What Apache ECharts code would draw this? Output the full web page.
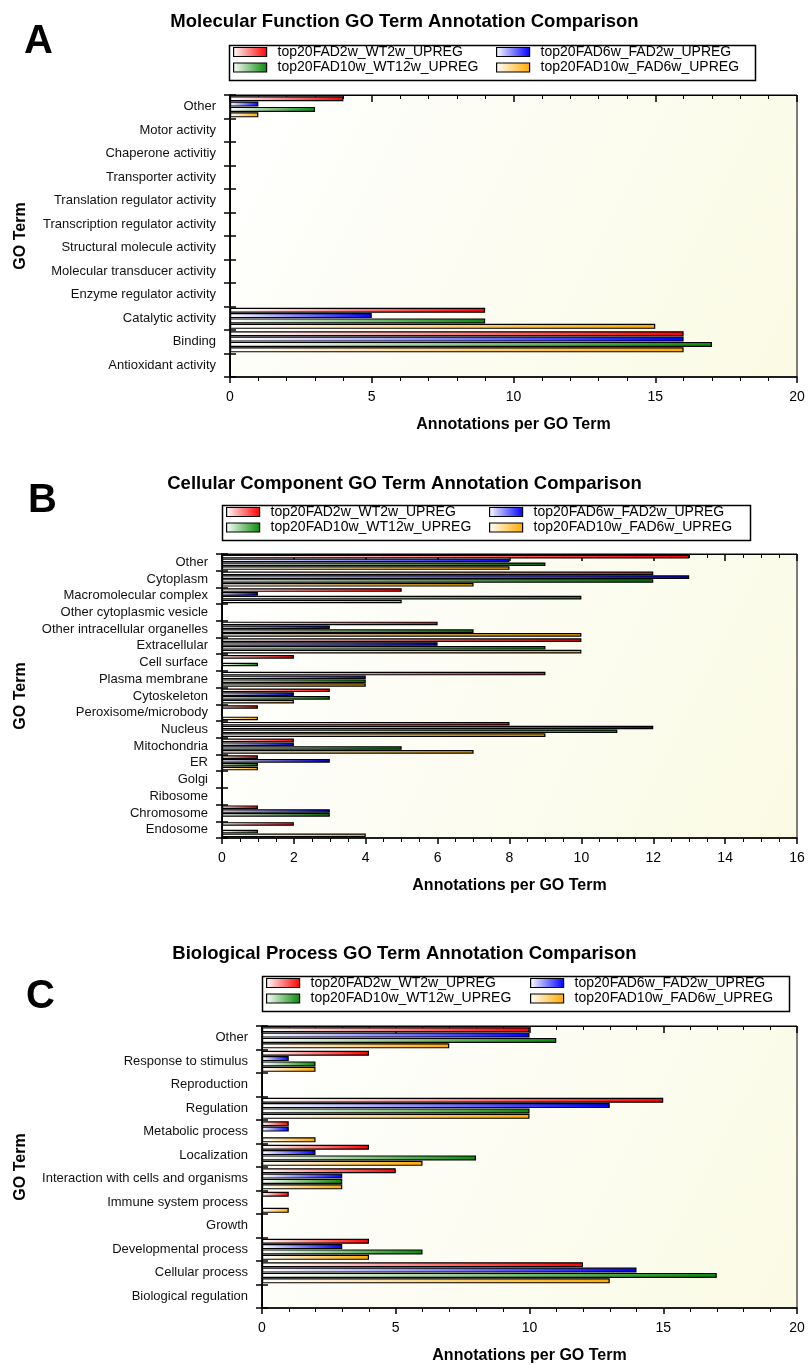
<!DOCTYPE html>
<html><head><meta charset="utf-8">
<script src="https://cdn.jsdelivr.net/npm/echarts@6/dist/echarts.min.js"></script>
<style>html,body{margin:0;padding:0;background:#fff}#c{width:809px;height:1365px}</style>
</head><body><div id="c"></div>
<script>
const seriesNames = ['top20FAD2w_WT2w_UPREG','top20FAD6w_FAD2w_UPREG','top20FAD10w_WT12w_UPREG','top20FAD10w_FAD6w_UPREG'];

const mfCategories = ['Other','Motor activity','Chaperone activitiy','Transporter activity','Translation regulator activity','Transcription regulator activity','Structural molecule activity','Molecular transducer activity','Enzyme regulator activity','Catalytic activity','Binding','Antioxidant activity'];
const mfFAD2wWT2w   = [4,0,0,0,0,0,0,0,0,9,16,0];
const mfFAD6wFAD2w  = [1,0,0,0,0,0,0,0,0,5,16,0];
const mfFAD10wWT12w = [3,0,0,0,0,0,0,0,0,9,17,0];
const mfFAD10wFAD6w = [1,0,0,0,0,0,0,0,0,15,16,0];

const ccCategories = ['Other','Cytoplasm','Macromolecular complex','Other cytoplasmic vesicle','Other intracellular organelles','Extracellular','Cell surface','Plasma membrane','Cytoskeleton','Peroxisome/microbody','Nucleus','Mitochondria','ER','Golgi','Ribosome','Chromosome','Endosome'];
const ccFAD2wWT2w   = [13,12,5,0,6,10,2,9,3,1,8,2,1,0,0,1,2];
const ccFAD6wFAD2w  = [8,13,1,0,3,6,0,4,2,0,12,2,3,0,0,3,0];
const ccFAD10wWT12w = [9,12,10,0,7,9,1,4,3,0,11,5,1,0,0,3,1];
const ccFAD10wFAD6w = [8,7,5,0,10,10,0,4,2,1,9,7,1,0,0,0,4];

const bpCategories = ['Other','Response to stimulus','Reproduction','Regulation','Metabolic process','Localization','Interaction with cells and organisms','Immune system process','Growth','Developmental process','Cellular process','Biological regulation'];
const bpFAD2wWT2w   = [10,4,0,15,1,4,5,1,0,4,12,0];
const bpFAD6wFAD2w  = [10,1,0,13,1,2,3,0,0,3,14,0];
const bpFAD10wWT12w = [11,2,0,10,0,8,3,0,0,6,17,0];
const bpFAD10wFAD6w = [7,2,0,10,2,6,3,1,0,4,13,0];

const panelTitles = ['Molecular Function GO Term Annotation Comparison','Cellular Component GO Term Annotation Comparison','Biological Process GO Term Annotation Comparison'];
const panelLetters = ['A','B','C'];
const xMax = [20,16,20];
const xInterval = [5,2,5];

const colors = ['#ff0000','#0000ff','#0a8a0a','#ffaa00'];
const panels = [
  {cats: mfCategories, vals: [mfFAD2wWT2w, mfFAD6wFAD2w, mfFAD10wWT12w, mfFAD10wFAD6w]},
  {cats: ccCategories, vals: [ccFAD2wWT2w, ccFAD6wFAD2w, ccFAD10wWT12w, ccFAD10wFAD6w]},
  {cats: bpCategories, vals: [bpFAD2wWT2w, bpFAD6wFAD2w, bpFAD10wWT12w, bpFAD10wFAD6w]}
];

// layout
const grids = [
  {left:230, top:95, width:567, height:282},
  {left:222, top:554, width:575, height:284},
  {left:262, top:1026, width:535, height:284}
];
const titleTops = [7, 469, 939];
const letterPos = [[24,22],[28,481],[26,977]];
const legendBox = [[227,43,526,35],[220,503,528,35],[260,974,527,35]];
const legendCols = [[233,496],[226,489],[266,530]];
const legendRowTop = [45, 505, 976];

const font = 'Liberation Sans, Arial, sans-serif';
const grad = c => new echarts.graphic.LinearGradient(0,0,1,0,[{offset:0,color:'#ffffff'},{offset:1,color:c}]);
const bg = new echarts.graphic.LinearGradient(0,0,1,1,[{offset:0,color:'#ffffff'},{offset:1,color:'#fafae4'}]);

const option = {
  animation:false,
  backgroundColor:'#fff',
  textStyle:{fontFamily:font},
  title: panelTitles.map((t,i)=>({text:t, left:'center', top:titleTops[i], textStyle:{fontSize:18.5, fontWeight:'bold', color:'#000', fontFamily:font}})),
  grid: grids.map(g=>Object.assign({show:true, backgroundColor:bg, borderColor:'#000', borderWidth:1, containLabel:false}, g)),
  xAxis: [],
  yAxis: [],
  legend: [],
  series: [],
  graphic: []
};

panels.forEach((p,i)=>{
  option.xAxis.push({
    gridIndex:i, type:'value', min:0, max:xMax[i], interval:xInterval[i], position:'bottom',
    name:'Annotations per GO Term', nameLocation:'middle', nameGap:40,
    nameTextStyle:{fontSize:16, fontWeight:'bold', color:'#000'},
    axisLine:{show:true, lineStyle:{color:'#000', width:1.5}},
    axisTick:{show:true, length:6, lineStyle:{color:'#000', width:1.5}},
    minorTick:{show:true, splitNumber:xInterval[i]==2?4:5, length:4, lineStyle:{color:'#000'}},
    axisLabel:{fontSize:14, color:'#000', margin:13},
    splitLine:{show:false}
  });
  option.xAxis.push({
    gridIndex:i, type:'value', min:0, max:xMax[i], interval:xInterval[i], position:'top',
    axisLine:{show:true, lineStyle:{color:'#000'}},
    axisTick:{show:true, inside:true, length:7, lineStyle:{color:'#000', width:1.5}},
    minorTick:{show:true, splitNumber:xInterval[i]==2?4:5, length:4, lineStyle:{color:'#000'}},
    axisLabel:{show:false}, splitLine:{show:false}
  });
  option.yAxis.push({
    gridIndex:i, type:'category', data:p.cats, inverse:true, position:'left',
    name:'GO Term', nameLocation:'middle', nameGap:grids[i].left-29, nameRotate:90,
    nameTextStyle:{fontSize:16, fontWeight:'bold', color:'#000'},
    axisLine:{show:true, lineStyle:{color:'#000', width:1.5}},
    axisTick:{show:true, inside:true, length:6, lineStyle:{color:'#000', width:1.5}},
    axisLabel:{fontSize:13, color:'#111', margin:14, interval:0},
    splitLine:{show:false}
  });
  option.yAxis.push({
    gridIndex:i, type:'category', data:p.cats, inverse:true, position:'right',
    axisLine:{show:true, lineStyle:{color:'#000'}},
    axisTick:{show:true, inside:true, length:6, lineStyle:{color:'#000', width:1.5}},
    axisLabel:{show:false}, splitLine:{show:false}
  });
  seriesNames.forEach((n,k)=>{
    option.series.push({
      type:'bar', name:n, xAxisIndex:2*i, yAxisIndex:2*i, data:p.vals[k],
      barGap:'6%', barCategoryGap:'10%',
      itemStyle:{color:grad(colors[k]), borderColor:'#000', borderWidth:1.2}
    });
    const row = k<2?0:1;
    const col = (k===0||k===2)?0:1;
    option.legend.push({
      data:[n], left:legendCols[i][col], top:legendRowTop[i]+row*15.5, padding:0,
      itemWidth:33, itemHeight:9, itemGap:10, icon:'rect',
      itemStyle:{borderColor:'#000', borderWidth:1.2},
      textStyle:{fontSize:14, color:'#000', fontFamily:font, padding:[0,0,0,6]}, selectedMode:false
    });
  });
  const b = legendBox[i];
  option.graphic.push({type:'rect', left:b[0], top:b[1], shape:{width:b[2], height:b[3]}, style:{fill:'none', stroke:'#000', lineWidth:1.5}});
  option.graphic.push({type:'text', left:letterPos[i][0], top:letterPos[i][1], style:{text:panelLetters[i], font:'bold 40px '+font, fill:'#000'}});
});

const chart = echarts.init(document.getElementById('c'), null, {renderer:'canvas'});
chart.setOption(option);
</script></body></html>
